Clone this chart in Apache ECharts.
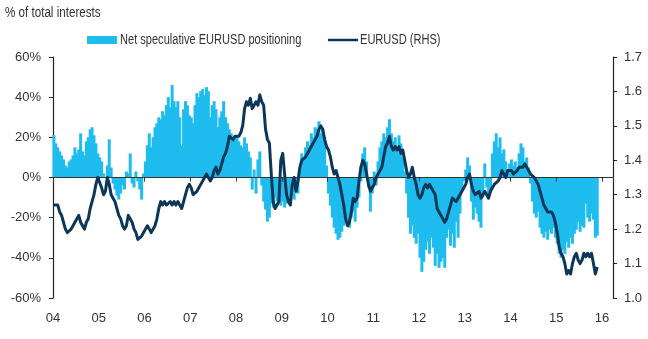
<!DOCTYPE html>
<html>
<head>
<meta charset="utf-8">
<script src="https://cdn.jsdelivr.net/npm/echarts@6/dist/echarts.min.js"></script>
<style>
  html, body { margin: 0; padding: 0; background: #fff; }
  #chart { width: 648px; height: 339px; }
</style>
</head>
<body>
<div id="chart"></div>
<script>
// Observations: two per month, starting January 2004
const startYear = 2004;
const obsPerYear = 24;

// Year tick labels
const yearLabels = ['04', '05', '06', '07', '08', '09', '10', '11', '12', '13', '14', '15', '16'];

// Net speculative EURUSD positioning, % of total interests
const positioning = [
  21, 17, 15, 13, 11, 9, 6, 5, 8, 9, 11, 15, 12, 14, 22, 13, 11, 18, 20, 24, 25, 21, 17, 12,
  10, 8, 2, 0, 6, 19, 5, -3, -6, -9, -11, -8, -4, -6, 3, 2, 12, -3, -5, 3, -2, -6, -11, 2,
  8, 16, 22, 15, 20, 25, 27, 30, 29, 33, 31, 36, 40, 35, 46, 38, 35, 38, 30, 16, 34, 38, 36, 31,
  30, 27, 36, 42, 40, 43, 44, 41, 45, 43, 30, 36, 38, 34, 25, 30, 33, 38, 30, 27, 24, 22, 20, 21,
  21, 18, 16, 15, 20, 17, 13, 10, -6, 4, -8, 9, 13, -4, -12, -16, -22, -20, -13, -15, -10, -12, -8, -14,
  -12, -15, -13, -10, -14, -9, -11, -6, -8, 3, 12, 10, 15, 18, 16, 22, 20, 25, 24, 28, 22, 24, 20, 6,
  -8, -14, -20, -25, -28, -31, -30, -27, -24, -18, -22, -25, -20, -17, -22, -15, -10, -2, 12, 15, 8, -5, -17, -8,
  3, -4, 8, 15, 18, 22, 20, 25, 29, 22, 18, 20, 15, 21, 17, 10, 3, -8, -20, -28, -24, -30, -33, -28,
  -40, -47, -42, -36, -32, -38, -30, -35, -44, -38, -45, -42, -40, -45, -30, -26, -34, -28, -35, -22, -30, -18, -6, -2,
  4, 10, 6, -12, -21, -15, -18, -22, -25, -10, 7, -5, -9, -6, 12, 18, 22, 15, 20, 12, 14, 8, 4, 7,
  9, 6, 8, 5, 12, 17, 15, 8, 10, 5, -3, -12, -18, -20, -17, -25, -28, -30, -27, -31, -26, -28, -25, -30,
  -33, -38, -40, -36, -38, -32, -35, -30, -33, -28, -26, -22, -27, -24, -25, -13, -20, -22, -18, -21, -30, -29
];

// EURUSD spot rate (right-hand scale)
const eurusd = [
  1.27, 1.27, 1.27, 1.25, 1.24, 1.22, 1.20, 1.19, 1.19, 1.20, 1.21, 1.22, 1.22, 1.24, 1.22, 1.21, 1.20, 1.22, 1.23, 1.26, 1.28, 1.30, 1.33, 1.35,
  1.35, 1.32, 1.30, 1.31, 1.35, 1.33, 1.30, 1.29, 1.28, 1.26, 1.24, 1.23, 1.21, 1.20, 1.21, 1.24, 1.23, 1.22, 1.20, 1.19, 1.17, 1.17, 1.18, 1.19,
  1.20, 1.21, 1.20, 1.19, 1.20, 1.21, 1.23, 1.26, 1.28, 1.27, 1.28, 1.27, 1.27, 1.28, 1.27, 1.28, 1.27, 1.28, 1.27, 1.26, 1.28, 1.30, 1.32, 1.33,
  1.32, 1.30, 1.30, 1.31, 1.32, 1.33, 1.34, 1.35, 1.36, 1.35, 1.34, 1.35, 1.37, 1.38, 1.36, 1.37, 1.39, 1.41, 1.42, 1.44, 1.47, 1.47, 1.46, 1.47,
  1.47, 1.47, 1.48, 1.50, 1.55, 1.57, 1.56, 1.58, 1.55, 1.56, 1.57, 1.56, 1.59, 1.57, 1.56, 1.49, 1.46, 1.45, 1.36, 1.28, 1.26, 1.26, 1.28, 1.40,
  1.42, 1.36, 1.30, 1.28, 1.27, 1.33, 1.35, 1.31, 1.34, 1.38, 1.40, 1.40, 1.41, 1.42, 1.43, 1.43, 1.45, 1.46, 1.47, 1.49, 1.50, 1.49, 1.46, 1.44,
  1.43, 1.41, 1.38, 1.36, 1.37, 1.35, 1.33, 1.30, 1.27, 1.23, 1.21, 1.22, 1.25, 1.29, 1.28, 1.29, 1.34, 1.38, 1.40, 1.39, 1.39, 1.33, 1.31, 1.32,
  1.33, 1.35, 1.36, 1.37, 1.38, 1.41, 1.44, 1.45, 1.47, 1.44, 1.43, 1.44, 1.43, 1.44, 1.42, 1.43, 1.40, 1.37, 1.35, 1.36, 1.38, 1.35, 1.33, 1.30,
  1.29, 1.30, 1.32, 1.33, 1.32, 1.33, 1.32, 1.31, 1.30, 1.26, 1.25, 1.24, 1.23, 1.22, 1.23, 1.25, 1.27, 1.29, 1.29, 1.28, 1.29, 1.30, 1.31, 1.32,
  1.33, 1.35, 1.36, 1.33, 1.31, 1.30, 1.30, 1.31, 1.29, 1.30, 1.31, 1.30, 1.29, 1.31, 1.32, 1.33, 1.33, 1.34, 1.35, 1.37, 1.36, 1.35, 1.37, 1.37,
  1.37, 1.36, 1.36, 1.37, 1.38, 1.38, 1.38, 1.39, 1.39, 1.37, 1.36, 1.36, 1.35, 1.34, 1.33, 1.31, 1.29, 1.27, 1.26, 1.25, 1.25, 1.25, 1.24, 1.22,
  1.19, 1.15, 1.13, 1.12, 1.10, 1.07, 1.08, 1.07, 1.10, 1.12, 1.13, 1.11, 1.10, 1.11, 1.13, 1.12, 1.13, 1.12, 1.13, 1.10, 1.07, 1.09
];

const dateOf = i => startYear + (i + 0.5) / obsPerYear;
const barData = positioning.map((v, i) => [dateOf(i), v]);
const lineData = eurusd.map((v, i) => [dateOf(i), v]);

const textColor = '#333333';
const axisColor = '#222';
const barColor = '#1fbcee';
const lineColor = '#0c3758';
const tickFont = "'Liberation Sans', Arial, sans-serif";
// Condensed look for the heading and legend text
const squeeze = 0.79;

const chart = echarts.init(document.getElementById('chart'), null, { renderer: 'canvas' });

chart.setOption({
  animation: false,
  backgroundColor: '#ffffff',
  graphic: [
    {
      type: 'text', x: 5, y: 13, scaleX: 0.83,
      style: { text: '% of total interests', fontFamily: tickFont, fontSize: 14, fill: textColor, textVerticalAlign: 'middle' }
    },
    { type: 'rect', shape: { x: 87, y: 36, width: 30, height: 8 }, style: { fill: barColor } },
    {
      type: 'text', x: 120, y: 40, scaleX: squeeze,
      style: { text: 'Net speculative EURUSD positioning', fontFamily: tickFont, fontSize: 14, fill: textColor, textVerticalAlign: 'middle' }
    },
    { type: 'line', shape: { x1: 328, y1: 40, x2: 358, y2: 40 }, style: { stroke: lineColor, lineWidth: 2.5 } },
    {
      type: 'text', x: 360, y: 40, scaleX: squeeze,
      style: { text: 'EURUSD (RHS)', fontFamily: tickFont, fontSize: 14, fill: textColor, textVerticalAlign: 'middle' }
    }
  ],
  grid: { left: 53, right: 35, top: 57, bottom: 41, containLabel: false },
  xAxis: [
    {
      type: 'value',
      min: 2004, max: 2016.24, interval: 1,
      position: 'bottom',
      axisLine: { show: false, onZero: false },
      axisTick: { show: false },
      splitLine: { show: false },
      axisLabel: {
        margin: 14,
        showMaxLabel: false,
        fontFamily: tickFont, fontSize: 13, color: textColor,
        formatter: v => (Number.isInteger(v) ? yearLabels[v - startYear] : '')
      }
    },
    {
      type: 'value',
      min: 2004, max: 2016.24, interval: 1,
      position: 'bottom',
      z: 5,
      axisLine: { show: true, onZero: true, onZeroAxisIndex: 0, lineStyle: { color: '#333', width: 1.2 } },
      axisTick: { show: true, length: 4, lineStyle: { color: '#333', width: 1 } },
      splitLine: { show: false },
      axisLabel: { show: false }
    }
  ],
  yAxis: [
    {
      type: 'value',
      min: -60, max: 60, interval: 20,
      position: 'left',
      axisLine: { show: true, lineStyle: { color: axisColor, width: 1.2 } },
      axisTick: { show: true, length: 4, lineStyle: { color: axisColor } },
      splitLine: { show: false },
      axisLabel: { margin: 12, fontFamily: tickFont, fontSize: 13, color: textColor, formatter: '{value}%' }
    },
    {
      type: 'value',
      min: 1.0, max: 1.7, interval: 0.1,
      position: 'right',
      axisLine: { show: true, lineStyle: { color: axisColor, width: 1.2 } },
      axisTick: { show: true, length: 4, lineStyle: { color: axisColor } },
      splitLine: { show: false },
      axisLabel: { margin: 11, fontFamily: tickFont, fontSize: 13, color: textColor, formatter: v => v.toFixed(1) }
    }
  ],
  series: [
    {
      name: 'Net speculative EURUSD positioning',
      type: 'bar',
      xAxisIndex: 0, yAxisIndex: 0,
      data: barData,
      barWidth: 3,
      itemStyle: { color: barColor },
      z: 2
    },
    {
      name: 'EURUSD (RHS)',
      type: 'line',
      xAxisIndex: 0, yAxisIndex: 1,
      data: lineData,
      symbol: 'none',
      lineStyle: { color: lineColor, width: 3, join: 'round' },
      itemStyle: { color: lineColor },
      z: 6
    }
  ]
});
</script>
</body>
</html>
